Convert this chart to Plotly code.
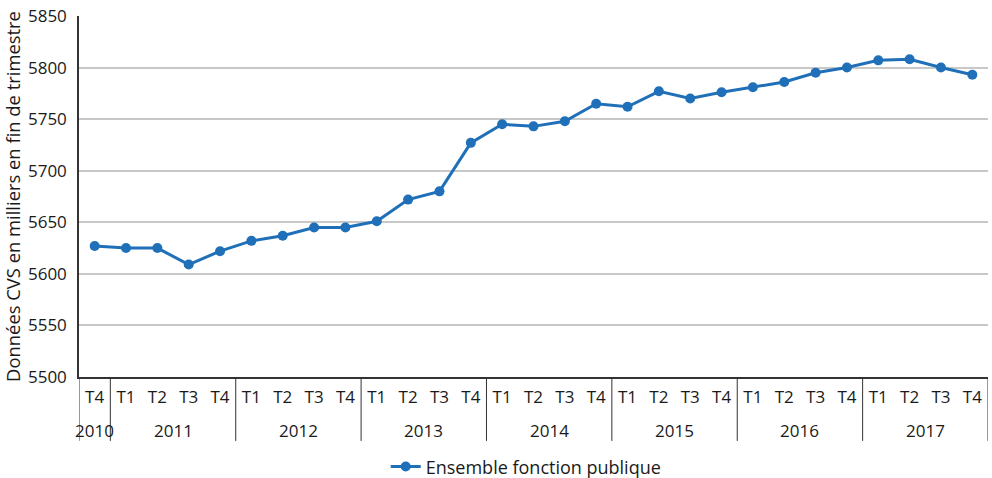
import plotly.graph_objects as go

# Effectifs de la fonction publique, données CVS en milliers, fin de trimestre
years = ["2010"] + [str(y) for y in range(2011, 2018) for _ in range(4)]
quarters = ["T4"] + ["T1", "T2", "T3", "T4"] * 7
values = [
    5627, 5625, 5625, 5609, 5622,
    5632, 5637, 5645, 5645,
    5651, 5672, 5680, 5727,
    5745, 5743, 5748, 5765,
    5762, 5777, 5770, 5776,
    5781, 5786, 5795, 5800,
    5807, 5808, 5800, 5793,
]
y_ticks = [5500, 5550, 5600, 5650, 5700, 5750, 5800, 5850]

blue = "#1f70b8"
dark = "#333333"
font = "Open Sans"

# one unique category per quarter, shown as "T1".."T4" on the axis
cats = [q + " " + y for q, y in zip(quarters, years)]

fig = go.Figure()
fig.add_trace(
    go.Scatter(
        x=cats,
        y=values,
        mode="lines+markers",
        name="Ensemble fonction publique",
        line=dict(color=blue, width=3),
        marker=dict(color=blue, size=10),
    )
)

# year row under the quarters, with a divider at each year boundary
label_y = -0.147
divider_bottom = -0.177
year_names = list(dict.fromkeys(years))
for yr in year_names:
    idx = [i for i, y in enumerate(years) if y == yr]
    fig.add_annotation(
        x=sum(idx) / len(idx),
        xref="x",
        y=label_y,
        yref="paper",
        text=yr,
        showarrow=False,
        yanchor="middle",
        font=dict(size=17),
    )
    fig.add_shape(
        type="line",
        xref="x",
        yref="paper",
        x0=idx[0] - 0.5,
        x1=idx[0] - 0.5,
        y0=0,
        y1=divider_bottom,
        line=dict(color=dark, width=1),
    )
fig.add_shape(
    type="line",
    xref="x",
    yref="paper",
    x0=len(values) - 0.5,
    x1=len(values) - 0.5,
    y0=0,
    y1=divider_bottom,
    line=dict(color=dark, width=1),
)

fig.update_layout(
    width=992,
    height=478,
    margin=dict(l=79, r=4, t=16, b=101, autoexpand=False),
    plot_bgcolor="white",
    paper_bgcolor="white",
    font=dict(family=font, size=17, color="#1a1a1a"),
    showlegend=True,
    legend=dict(
        orientation="h",
        x=0.492,
        xanchor="center",
        y=-0.249,
        yanchor="middle",
        font=dict(size=18),
    ),
)

fig.update_xaxes(
    type="category",
    range=[-0.5, len(values) - 0.5],
    tickvals=cats,
    ticktext=quarters,
    automargin=False,
    showline=True,
    linecolor=dark,
    linewidth=1.5,
    showgrid=False,
    tickfont=dict(size=17),
    tickangle=0,
    ticks="",
    ticklabelstandoff=4,
)

fig.update_yaxes(
    range=[5500, 5850],
    automargin=False,
    tickvals=y_ticks,
    showgrid=True,
    gridcolor="#c8c8c8",
    gridwidth=1.5,
    showline=True,
    linecolor=dark,
    linewidth=1.5,
    zeroline=False,
    tickfont=dict(size=17),
    ticks="",
    ticklabelstandoff=7,
    title=dict(text="Données CVS en milliers en fin de trimestre", font=dict(size=18.4), standoff=6),
)

# no default body margin, so the figure sits at the window's top-left corner
fig.write_html(
    "out.html",
    config={"displayModeBar": False},
    post_script="document.body.style.margin='0';",
)
